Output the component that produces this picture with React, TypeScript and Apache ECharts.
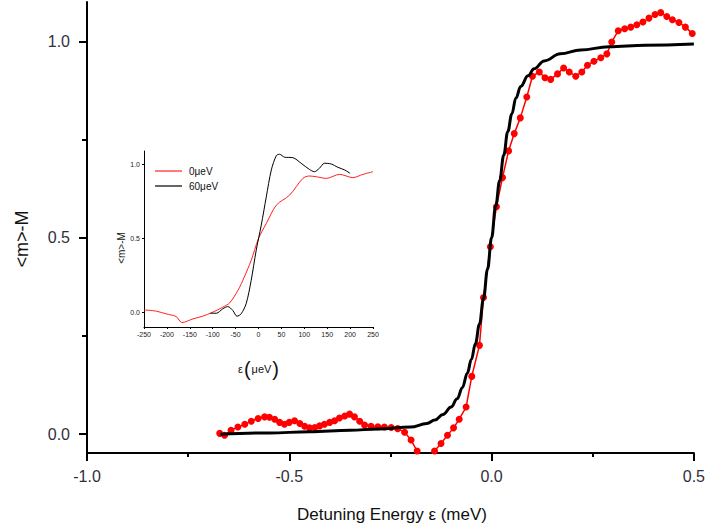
import React, { useEffect, useRef } from "react";
import * as echarts from "echarts";

// Main plot: measured <m>-M (red dots) vs detuning energy (meV)
const mainRed: number[][] = [
  [-0.672, 0.002], [-0.66, -0.003], [-0.644, 0.01], [-0.627, 0.018], [-0.61, 0.025],
  [-0.594, 0.033], [-0.577, 0.04], [-0.561, 0.044], [-0.549, 0.043], [-0.536, 0.038],
  [-0.524, 0.03], [-0.512, 0.025], [-0.5, 0.03], [-0.487, 0.034], [-0.474, 0.027],
  [-0.462, 0.02], [-0.45, 0.016], [-0.437, 0.017], [-0.425, 0.021], [-0.413, 0.025],
  [-0.4, 0.03], [-0.388, 0.034], [-0.376, 0.041], [-0.363, 0.046], [-0.351, 0.051],
  [-0.339, 0.044], [-0.326, 0.033], [-0.314, 0.023], [-0.298, 0.02], [-0.281, 0.019],
  [-0.265, 0.018], [-0.248, 0.017], [-0.232, 0.014], [-0.215, 0.005], [-0.199, -0.015],
  [-0.184, -0.043], [-0.17, -0.062], [-0.155, -0.062], [-0.141, -0.043], [-0.125, -0.024],
  [-0.109, -0.003], [-0.094, 0.016], [-0.08, 0.038], [-0.063, 0.069], [-0.049, 0.147],
  [-0.03, 0.226], [-0.02, 0.348], [-0.003, 0.477], [0.012, 0.579], [0.027, 0.653],
  [0.042, 0.721], [0.056, 0.765], [0.071, 0.805], [0.087, 0.858], [0.101, 0.911],
  [0.118, 0.922], [0.132, 0.907], [0.146, 0.903], [0.163, 0.917], [0.178, 0.932],
  [0.192, 0.922], [0.208, 0.911], [0.223, 0.922], [0.237, 0.939], [0.253, 0.949],
  [0.27, 0.958], [0.285, 0.968], [0.297, 0.998], [0.313, 1.027], [0.329, 1.032],
  [0.344, 1.036], [0.359, 1.042], [0.374, 1.049], [0.389, 1.059], [0.404, 1.068],
  [0.418, 1.073], [0.433, 1.063], [0.447, 1.055], [0.463, 1.048], [0.479, 1.036],
  [0.496, 1.02],
];

// Main plot: fitted curve (black)
const mainFit: number[][] = [
  [-0.67, 0.0], [-0.55, 0.003], [-0.45, 0.006], [-0.35, 0.01], [-0.28, 0.013],
  [-0.2, 0.018], [-0.16, 0.027], [-0.14, 0.036], [-0.12, 0.05], [-0.1, 0.069],
  [-0.085, 0.09], [-0.072, 0.119], [-0.06, 0.155], [-0.05, 0.19], [-0.04, 0.23],
  [-0.03, 0.28], [-0.02, 0.345], [-0.01, 0.42], [0.0, 0.5], [0.01, 0.58],
  [0.02, 0.645], [0.03, 0.71], [0.04, 0.77], [0.05, 0.815], [0.06, 0.855],
  [0.072, 0.885], [0.09, 0.912], [0.105, 0.93], [0.13, 0.95], [0.17, 0.968],
  [0.22, 0.978], [0.29, 0.986], [0.38, 0.99], [0.5, 0.993],
];

// Inset: 0 μeV (red) and 60 μeV (black), x in μeV
const inset0: number[][] = [
  [-250, 0.016], [-223, 0.007], [-202, -0.011], [-180, -0.029], [-167, -0.07],
  [-143, -0.045], [-122, -0.027], [-100, 0.0], [-78, 0.034], [-63, 0.063],
  [-45, 0.147], [-31, 0.238], [-16, 0.351], [0, 0.498], [17, 0.6],
  [39, 0.724], [68, 0.792], [97, 0.905], [111, 0.921], [126, 0.916],
  [148, 0.905], [177, 0.932], [206, 0.91], [228, 0.932], [250, 0.95],
];
const inset60: number[][] = [
  [-105, -0.007], [-92, -0.007], [-78, 0.023], [-67, 0.038], [-56, 0.011],
  [-47, -0.027], [-38, -0.011], [-27, 0.057], [-16, 0.215], [-5, 0.419],
  [6, 0.588], [17, 0.78], [28, 0.962], [39, 1.059], [46, 1.068],
  [57, 1.048], [75, 1.045], [93, 1.007], [111, 0.966], [122, 0.95],
  [133, 0.973], [144, 1.007], [159, 1.002], [173, 0.98], [188, 0.962],
  [200, 0.939],
];

const mainYTicks = [0, 0.5, 1.0];
const mainYMinor = [0.25, 0.75];
const insetYTicks = [0, 0.5, 1.0];

const FONT = "'Liberation Sans', Arial, sans-serif";

export default function App() {
  const ref = useRef<HTMLDivElement>(null);
  useEffect(() => {
    if (!ref.current) return;
    const chart = echarts.init(ref.current, null, { renderer: "svg" });
    const axisLine = { show: true, onZero: false, lineStyle: { color: "#000", width: 2 } };
    const option: any = {
      animation: false,
      backgroundColor: "#fff",
      textStyle: { fontFamily: FONT },
      grid: [
        { left: 87, top: 2, width: 610, height: 451 },
        { left: 144, top: 151, width: 229, height: 176 },
        { left: 87, top: 2, width: 610, height: 451 },
      ],
      xAxis: [
        {
          type: "value", gridIndex: 0, min: -1, max: 0.5, interval: 0.5,
          axisLine,
          axisTick: { show: true, length: 8, lineStyle: { color: "#000", width: 2 } },
          minorTick: { show: true, splitNumber: 2, length: 4, lineStyle: { color: "#000", width: 2 } },
          splitLine: { show: false },
          axisLabel: { fontSize: 16, color: "#30303c", margin: 15, fontFamily: FONT, formatter: (v: number) => v.toFixed(1) },
        },
        {
          type: "value", gridIndex: 1, min: -250, max: 250, interval: 50,
          axisLine: { show: true, onZero: false, lineStyle: { color: "#000", width: 1 } },
          axisTick: { show: true, length: 2, lineStyle: { color: "#000", width: 1 } },
          splitLine: { show: false },
          axisLabel: { fontSize: 7, color: "#222", margin: 4, fontFamily: FONT },
        },
        {
          type: "value", gridIndex: 2, min: 0, max: 1,
          axisLine: { show: false }, axisTick: { show: false }, axisLabel: { show: false }, splitLine: { show: false },
        },
      ],
      yAxis: [
        {
          type: "value", gridIndex: 0, min: -0.048, max: 1.1, position: "left",
          axisLine,
          axisTick: { show: true, length: 8, customValues: mainYTicks, lineStyle: { color: "#000", width: 2 } },
          splitLine: { show: false },
          axisLabel: { fontSize: 16, color: "#30303c", margin: 17, fontFamily: FONT, customValues: mainYTicks, formatter: (v: number) => v.toFixed(1) },
        },
        {
          type: "value", gridIndex: 1, min: -0.1, max: 1.09,
          axisLine: { show: true, onZero: false, lineStyle: { color: "#000", width: 1 } },
          axisTick: { show: true, length: 2, customValues: insetYTicks, lineStyle: { color: "#000", width: 1 } },
          splitLine: { show: false },
          axisLabel: { fontSize: 7, color: "#222", margin: 4, fontFamily: FONT, customValues: insetYTicks, formatter: (v: number) => v.toFixed(1) },
        },
        {
          // minor ticks of the main y axis (grid 2 overlays grid 0; its x starts at 0)
          type: "value", gridIndex: 2, min: -0.048, max: 1.1,
          axisLine: { show: false },
          axisTick: { show: true, length: 5, customValues: mainYMinor, lineStyle: { color: "#000", width: 2 } },
          splitLine: { show: false },
          axisLabel: { show: false },
        },
      ],
      legend: {
        data: [
          { name: "0μeV", icon: "rect", itemStyle: { color: "#ff2020" } },
          { name: "60μeV", icon: "rect", itemStyle: { color: "#000" } },
        ],
        left: 150, top: 161, orient: "vertical",
        itemWidth: 27, itemHeight: 1.2, itemGap: 5,
        textStyle: { fontSize: 10, color: "#111", fontFamily: FONT, padding: [0, 0, 0, 2] },
      },
      series: [
        {
          name: "data", type: "line", xAxisIndex: 0, yAxisIndex: 0, data: mainRed,
          symbol: "circle", symbolSize: 7, showSymbol: true,
          lineStyle: { color: "#ff0000", width: 1.5 }, itemStyle: { color: "#ff0000" }, z: 2,
        },
        {
          name: "fit", type: "line", xAxisIndex: 0, yAxisIndex: 0, data: mainFit,
          symbol: "none", smooth: 0.4, smoothMonotone: "x",
          lineStyle: { color: "#000", width: 3 }, itemStyle: { color: "#000" }, z: 3,
        },
        {
          name: "0μeV", type: "line", xAxisIndex: 1, yAxisIndex: 1, data: inset0,
          symbol: "none", smooth: 0.3,
          lineStyle: { color: "#ff2020", width: 1 }, itemStyle: { color: "#ff2020" },
        },
        {
          name: "60μeV", type: "line", xAxisIndex: 1, yAxisIndex: 1, data: inset60,
          symbol: "none", smooth: 0.3,
          lineStyle: { color: "#000", width: 1 }, itemStyle: { color: "#000" },
        },
        {
          name: "_minor", type: "line", xAxisIndex: 2, yAxisIndex: 2, data: [],
          symbol: "none",
        },
      ],
      graphic: [
        {
          type: "text", x: 392, y: 514,
          style: { text: "Detuning Energy ε (meV)", fontSize: 17, fontFamily: FONT, fill: "#111", textAlign: "center", textVerticalAlign: "middle" },
        },
        {
          type: "text", x: 22, y: 239, rotation: Math.PI / 2,
          style: { text: "<m>-M", fontSize: 18, fontFamily: FONT, fill: "#111", textAlign: "center", textVerticalAlign: "middle" },
        },
        {
          type: "text", x: 121, y: 248, rotation: Math.PI / 2,
          style: { text: "<m>-M", fontSize: 10, fontFamily: FONT, fill: "#111", textAlign: "center", textVerticalAlign: "middle" },
        },
        {
          type: "text", x: 258, y: 369,
          style: {
            text: "{a|ε}{p|(}{a|μeV}{p|)}",
            textAlign: "center", textVerticalAlign: "middle",
            rich: {
              a: { fontSize: 11, fontFamily: FONT, fill: "#111", padding: [0, 1, 0, 1] },
              p: { fontSize: 20, fontFamily: FONT, fill: "#111" },
            },
          },
        },
      ],
    };
    chart.setOption(option);
    return () => chart.dispose();
  }, []);
  return (
    <div
      ref={ref}
      style={{ position: "absolute", left: 0, top: 0, width: 708, height: 531 }}
    />
  );
}
